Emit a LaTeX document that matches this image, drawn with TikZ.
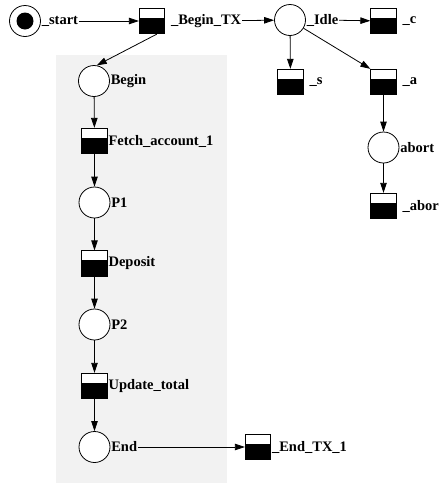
\documentclass[tikz,border=0pt]{standalone}
\usepackage{fontspec}
\setmainfont{Liberation Serif}
\usetikzlibrary{arrows.meta}

\begin{document}
\begin{tikzpicture}[x=1pt, y=-1pt, line width=0.8pt,
    >={Triangle[length=10pt, width=6.5pt]},
    place/.style={circle, draw, fill=white, minimum size=31pt, inner sep=0pt},
    trans/.style={rectangle, draw, fill=white, minimum size=25.5pt, inner sep=0pt,
      path picture={\fill[black] (path picture bounding box.south west)
        rectangle ([yshift=-9.5pt]path picture bounding box.north east);}},
    lbl/.style={font=\bfseries\fontsize{14.5}{16}\selectfont, inner sep=0.5pt},
    far/.style={label distance=5pt}]
  \definecolor{txbox}{HTML}{F2F2F2}
  \useasboundingbox (0,0) rectangle (439,483);

  % ---- the transaction block sits on a grey panel --------------------------
  \fill[txbox] (56,55) rectangle (227,483);

  % ---- entry: start place and the top row ----------------------------------
  \node[place, label={[lbl, name=lstart]east:\_start}] (start) at (25,21) {};
  \fill (start) circle (8.5pt);
  \node[trans, label={[lbl, far, name=lbegintx]east:\_Begin\_TX}] (tbegintx) at (152,21) {};
  \node[place, label={[lbl, name=lidle]east:\_Idle}] (idle) at (290,20) {};
  \node[trans, label={[lbl, far]east:\_c}] (tc) at (383.5,21) {};
  \node[trans, label={[lbl, far]east:\_s}] (ts) at (290.5,82) {};
  \node[trans, label={[lbl, far]east:\_a}] (ta) at (383.5,82) {};
  \node[place, label={[lbl]east:abort}] (abort) at (383.5,147.5) {};
  \node[trans, label={[lbl, far]east:\_abor}] (tabor) at (383.5,206) {};

  % ---- the transaction body, one step every 61pt ---------------------------
  \node[place, label={[lbl]east:Begin}] (pbegin) at (94,81) {};
  \node[trans, label={[lbl]east:Fetch\_account\_1}] (tfetch) at (94.5,141) {};
  \node[place, label={[lbl]east:P1}] (p1) at (94.5,202.5) {};
  \node[trans, label={[lbl]east:Deposit}] (tdeposit) at (94.5,263.5) {};
  \node[place, label={[lbl]east:P2}] (p2) at (94.5,324.5) {};
  \node[trans, label={[lbl]east:Update\_total}] (tupdate) at (94.5,386) {};
  \node[place, label={[lbl, name=lend]east:End}] (pend) at (94.5,447) {};
  \node[trans, label={[lbl]east:\_End\_TX\_1}] (tendtx) at (258,447) {};

  % ---- arcs ----------------------------------------------------------------
  \draw[->] (lstart) -- (tbegintx);
  \draw[->] (lbegintx) -- (idle);
  \draw[->] (lidle) -- (tc);
  \draw[->] (idle) -- (ts);
  \draw[->] (idle) -- (ta.north west);
  \draw[->] (ta) -- (abort);
  \draw[->] (abort) -- (tabor);
  \draw[->] (tbegintx.290) -- (pbegin.80);
  \foreach \from/\to in {pbegin/tfetch, tfetch/p1, p1/tdeposit,
      tdeposit/p2, p2/tupdate, tupdate/pend}
    \draw[->] (\from) -- (\to);
  \draw[->] (lend) -- (tendtx);
\end{tikzpicture}
\end{document}
